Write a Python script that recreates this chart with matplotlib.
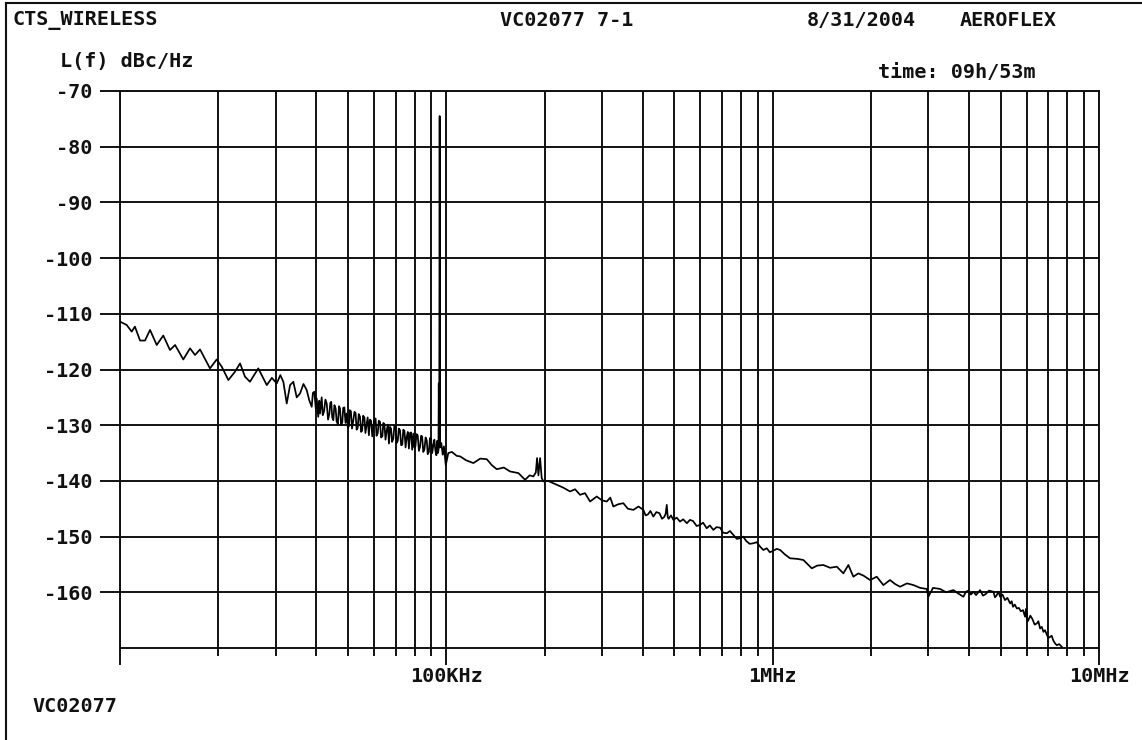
import matplotlib
matplotlib.use("Agg")
import matplotlib.pyplot as plt
from matplotlib.lines import Line2D
from matplotlib.ticker import FixedLocator, NullFormatter

# offset frequency (kHz) and phase noise L(f) (dBc/Hz)
freq_khz = [
    10.0, 10.48, 10.86, 11.11, 11.52, 11.93, 12.36, 12.96, 13.57, 14.23,
    14.75, 15.63, 16.39, 16.98, 17.59, 18.87, 19.78, 20.50, 21.48, 22.51,
    23.33, 24.16, 25.02, 26.53, 28.17, 29.2, 30.22, 31.0, 31.66, 32.43,
    33.2, 33.97, 34.8, 35.62, 36.5, 37.34,
    38.0, 38.68, 39.0, 39.4, 39.8, 40.07, 40.5, 40.8, 41.02, 41.5,
    41.8, 42.2, 42.6, 43.0, 43.4, 43.8, 44.1, 44.4, 44.7, 45.06,
    45.4, 45.8, 46.1, 46.5, 46.9, 47.22, 47.6, 48.0, 48.3, 48.7,
    49.1, 49.52, 49.9, 50.3, 50.6, 51.0, 51.4, 51.88, 52.3, 52.7,
    53.1, 53.5, 53.9, 54.39, 54.8, 55.2, 55.6, 56.1, 56.5, 57.02,
    57.4, 57.9, 58.3, 58.8, 59.3, 59.74, 60.2, 60.7, 61.1, 61.6,
    62.1, 62.63, 63.1, 63.7, 64.1, 64.6, 65.1, 65.67, 66.2, 66.7,
    67.2, 67.7, 68.2, 68.8, 69.3, 69.9, 70.4, 71.0, 71.5, 72.13,
    72.7, 73.3, 73.8, 74.4, 75.0, 75.62, 76.2, 76.8, 77.4, 78.0,
    78.6, 79.23, 79.8, 80.4, 81.0, 81.7, 82.4, 83.06, 83.7, 84.3,
    85.0, 85.7, 86.4, 87.08, 87.7, 88.4, 89.1, 89.8, 90.5, 91.24,
    91.9, 92.6, 93.2, 93.8, 94.2, 94.6,
    94.8, 95.1, 95.4, 95.7,
    96.5, 97.5, 98.3, 99.1, 99.6, 101.4, 104, 107.6, 110.2, 115,
    121.0, 127, 133.0, 138, 142.7, 150, 156.7, 166.3, 174.3, 180,
    184.8, 188, 189.7, 191.5, 193.8, 196, 198.4, 205, 218.0, 228,
    239.4, 248, 256.9, 266, 275.7, 289.0, 300, 310.1, 318, 324.9,
    336, 348.6, 360, 374.3, 388,
    401.5, 408, 415, 422, 430.9, 440, 450, 458, 465, 470,
    473.6, 477, 480, 488, 496.3, 508, 520, 532, 545.6, 558,
    570, 585, 599.1, 612, 628, 642, 658.1, 673, 690, 705,
    723.4, 740, 760, 776, 794.5, 812, 830, 850, 872.7, 893,
    915, 936, 959.2, 980, 1000, 1029, 1054,
    1090, 1131, 1190, 1242, 1318, 1370, 1430, 1500, 1572, 1647,
    1706, 1767, 1830, 1897, 1989, 2084, 2184, 2289, 2370, 2457,
    2580, 2700, 2830, 2967, 3000, 3100, 3258, 3400, 3580, 3700,
    3841, 3910, 3980, 4050, 4122, 4200, 4321, 4410, 4500, 4600,
    4747, 4800, 4850, 4920, 4977, 5060, 5150, 5240, 5341, 5400,
    5450, 5520, 5600, 5680, 5760, 5850, 5937, 5970, 6000, 6040,
    6076, 6160, 6250, 6350, 6448, 6520, 6600, 6680, 6755, 6830,
    6900, 6990, 7080, 7160, 7250, 7340, 7426, 7550, 7691,
]
noise_dbc = [
    -111.4, -112.0, -113.2, -112.3, -114.8, -114.8, -112.9, -115.6, -113.9, -116.5,
    -115.6, -118.2, -116.2, -117.4, -116.4, -119.8, -118.2, -119.5, -121.9, -120.4,
    -118.9, -121.3, -122.2, -119.8, -122.8, -121.5, -122.5, -121.0, -122.2, -126.1,
    -122.8, -122.2, -125.0, -124.3, -122.6, -123.7,
    -125.5, -126.7, -124.2, -124.0, -127.0, -125.2, -128.5, -125.6, -127.9, -125.0,
    -128.2, -127.5, -125.4, -126.1, -129.0, -128.0, -126.0, -125.8, -128.6, -129.1,
    -126.4, -127.0, -129.3, -129.8, -126.6, -127.0, -130.0, -129.5, -126.9, -126.8,
    -129.6, -127.9, -130.4, -130.2, -127.3, -127.5, -130.6, -129.1, -127.6, -127.8,
    -130.8, -130.5, -128.0, -128.5, -131.2, -131.0, -128.3, -128.6, -131.4, -129.7,
    -128.6, -131.8, -129.0, -129.2, -132.0, -130.3, -128.9, -128.8, -131.9, -131.5,
    -129.2, -129.4, -132.2, -132.0, -129.6, -129.8, -132.6, -130.9, -129.9, -133.3,
    -130.3, -130.6, -133.0, -132.4, -130.1, -130.2, -133.2, -132.8, -130.6, -130.9,
    -133.6, -133.5, -130.8, -131.0, -134.0, -132.1, -131.2, -134.2, -131.4, -131.3,
    -134.4, -131.5, -134.0, -133.8, -131.6, -131.8, -134.6, -133.9, -131.9, -132.0,
    -134.8, -134.3, -132.2, -132.7, -135.2, -134.8, -132.3, -132.4, -135.0, -133.6,
    -132.6, -134.6, -135.4, -132.8, -135.0, -134.5,
    -122.5, -134.0, -74.5, -134.0,
    -133.2, -135.3, -133.8, -135.9, -137.2, -135.0, -134.8, -135.5, -135.6, -136.3,
    -136.8, -136.0, -136.1, -137.2, -137.9, -137.6, -138.3, -138.6, -139.8, -139.0,
    -139.2, -138.5, -135.9, -139.0, -135.9, -139.5, -140.1, -140.0, -140.7, -141.2,
    -141.9, -141.5, -142.5, -142.2, -143.7, -142.8, -143.5, -143.7, -143.0, -144.6,
    -144.2, -144.0, -145.0, -145.2, -144.6,
    -145.2, -146.2, -146.0, -145.4, -146.4, -145.6, -145.8, -146.8, -146.5, -145.9,
    -144.3, -146.5, -146.8, -146.2, -147.0, -146.6, -147.3, -146.9, -147.6, -147.0,
    -147.2, -148.1, -147.9, -147.5, -148.5, -148.0, -148.8, -148.3, -148.4, -149.3,
    -149.4, -149.0, -149.8, -150.4, -150.3, -150.0, -150.8, -151.3, -151.2, -151.0,
    -151.8, -152.4, -152.1, -152.8, -152.6, -152.2, -152.4,
    -153.2, -153.9, -154.0, -154.2, -155.7, -155.2, -155.1, -155.6, -155.4, -156.6,
    -155.1, -157.2, -156.6, -157.0, -157.8, -157.2, -158.7, -157.8, -158.5, -159.0,
    -158.4, -158.7, -159.2, -159.4, -160.8, -159.2, -159.4, -160.0, -159.6, -160.2,
    -160.8, -159.9, -159.7, -160.4, -159.9, -160.5, -159.6, -160.6, -160.3, -159.7,
    -159.9, -160.9, -160.6, -159.9, -160.8, -160.4, -161.4, -161.0, -162.0, -161.6,
    -162.6, -162.2, -162.9, -162.8, -163.4, -163.2, -164.4, -163.0, -163.6, -165.2,
    -165.0, -164.2, -164.8, -165.8, -165.6, -165.2, -166.5, -166.2, -167.1, -166.8,
    -167.4, -168.2, -168.0, -167.8, -168.7, -169.2, -169.5, -169.3, -169.8,
]
assert len(freq_khz) == len(noise_dbc)

y_ticks = [-70, -80, -90, -100, -110, -120, -130, -140, -150, -160]
x_major = [10, 100, 1000, 10000]
x_labels = ["", "100KHz", "1MHz", "10MHz"]
x_minor = [m * d for d in (10, 100, 1000) for m in range(2, 10)]

ink = "#111111"
font = dict(family="DejaVu Sans Mono", weight="bold", size=14.5, color=ink)

fig = plt.figure(figsize=(11.42, 7.40), dpi=100)
fig.patch.set_facecolor("white")
ax = fig.add_axes([120 / 1142, 92 / 740, 979 / 1142, 557 / 740])

ax.plot(freq_khz, noise_dbc, color="black", lw=1.25, zorder=3)

ax.set_xscale("log")
ax.set_xlim(10, 10000)
ax.set_ylim(-170, -70)

ax.xaxis.set_major_locator(FixedLocator(x_major))
ax.xaxis.set_minor_locator(FixedLocator(x_minor))
ax.set_xticklabels(x_labels)
ax.xaxis.set_minor_formatter(NullFormatter())
ax.set_yticks(y_ticks, labels=[str(v) for v in y_ticks])

ax.grid(which="both", axis="x", color=ink, lw=1.4)
ax.grid(which="major", axis="y", color=ink, lw=1.4)
for s in ax.spines.values():
    s.set_linewidth(1.4)
    s.set_color(ink)

ax.tick_params(axis="y", length=14.4, width=1.4, color=ink, pad=5.5)
ax.tick_params(axis="x", which="major", length=12.5, width=1.4, color=ink, pad=1.5)
ax.tick_params(axis="x", which="minor", length=5.8, width=1.4, color=ink)
for lab in ax.get_xticklabels() + ax.get_yticklabels():
    lab.set_fontfamily("DejaVu Sans Mono")
    lab.set_fontweight("bold")
    lab.set_fontsize(14.5)
    lab.set_color(ink)

# header / footer texts, placed in figure pixels
def put(x, y, s):
    fig.text(x / 1142, 1 - y / 740, s, ha="left", va="center", **font)

put(13, 20, "CTS_WIRELESS")
put(500, 20, "VC02077 7-1")
put(807, 20, "8/31/2004")
put(960, 20, "AEROFLEX")
put(60, 62, "L(f) dBc/Hz")
put(878, 73, "time: 09h/53m")
put(32, 707, "VC02077")

# frame of the printout (only top and left edges visible)
fig.add_artist(Line2D([6 / 1142, 6 / 1142], [0, 1 - 3 / 740], color=ink, lw=1.5))
fig.add_artist(Line2D([6 / 1142, 1], [1 - 3 / 740, 1 - 3 / 740], color=ink, lw=1.5))

fig.savefig("out.png", dpi=100)
